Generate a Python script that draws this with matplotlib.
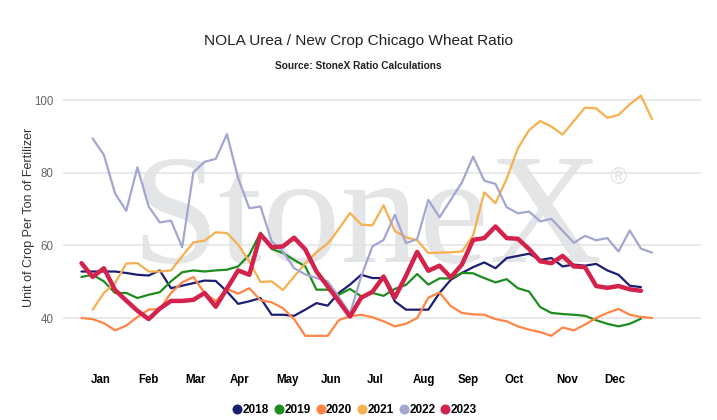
import numpy as np
import matplotlib

matplotlib.use("Agg")
import matplotlib.pyplot as plt
from matplotlib.lines import Line2D

# ---------------------------------------------------------------------------
# Data (weekly ratio)
# ---------------------------------------------------------------------------

years = ["2018", "2019", "2020", "2021", "2022", "2023"]
first_week = [0, 0, 0, 1, 1, 0]   # 2021 / 2022 start one week later

r2018 = [52.8, 52.8, 52.8, 52.8, 52.4, 51.9, 51.7, 53.1, 48.2, 48.9, 49.6, 50.3, 50.2,
         47.3, 43.9, 44.6, 45.5, 40.9, 40.9, 40.6, 42.3, 44.1, 43.4, 46.9, 49.2, 51.9,
         51.0, 51.0, 44.6, 42.3, 42.3, 42.3, 46.9, 50.5, 52.4, 54.0, 55.3, 53.7, 56.5,
         57.1, 57.7, 56.0, 56.5, 54.2, 54.7, 54.4, 54.9, 53.1, 51.9, 48.9, 48.5]
r2019 = [51.3, 51.9, 50.1, 46.9, 46.9, 45.5, 46.4, 47.1, 50.1, 52.6, 53.1, 52.8, 53.1,
         53.3, 54.2, 57.4, 63.5, 59.0, 57.9, 56.0, 54.2, 47.8, 47.8, 46.4, 48.0, 46.0,
         46.9, 46.1, 48.0, 49.1, 52.1, 49.2, 50.9, 50.9, 52.4, 52.3, 51.0, 49.8, 50.7,
         48.2, 47.3, 43.0, 41.4, 41.1, 40.9, 40.6, 39.4, 38.4, 37.7, 38.4, 39.8]
r2020 = [40.0, 39.7, 38.6, 36.6, 37.9, 40.3, 42.3, 42.5, 46.9, 49.8, 51.3, 46.9, 44.6,
         48.0, 46.7, 48.2, 44.9, 44.3, 42.7, 39.7, 35.1, 35.1, 35.1, 39.4, 40.5, 40.9,
         40.2, 39.1, 37.7, 38.4, 40.0, 45.6, 47.0, 43.3, 41.4, 41.0, 40.9, 39.7, 39.1,
         37.7, 36.8, 36.1, 35.1, 37.4, 36.6, 38.2, 40.0, 41.4, 42.5, 40.9, 40.3, 40.0]
r2021 = [42.3, 46.9, 49.6, 55.0, 55.1, 52.8, 52.8, 53.1, 57.0, 60.8, 61.3, 63.6, 63.4,
         60.2, 55.6, 49.9, 50.1, 47.7, 51.4, 55.0, 58.1, 60.5, 64.5, 68.9, 65.7, 65.5,
         71.0, 64.0, 62.2, 61.4, 57.9, 58.0, 58.1, 58.3, 62.7, 74.6, 71.6, 78.3, 86.7,
         91.7, 94.2, 92.7, 90.5, 94.2, 97.9, 97.7, 95.1, 95.9, 98.8, 101.2, 94.7]
r2022 = [89.4, 84.9, 74.3, 69.5, 81.5, 70.7, 66.3, 66.8, 59.5, 80.1, 83.0, 83.8, 90.6,
         78.5, 70.2, 70.7, 61.1, 58.3, 53.7, 52.0, 51.0, 50.1, 45.8, 41.2, 51.4, 59.7,
         61.5, 68.4, 60.6, 61.7, 72.5, 67.7, 72.5, 77.3, 84.4, 77.8, 76.9, 70.5, 68.8,
         69.3, 66.6, 67.3, 64.0, 60.7, 62.6, 61.4, 62.0, 58.3, 64.1, 59.1, 58.0]
r2023 = [55.1, 51.3, 53.7, 47.7, 44.8, 42.0, 39.7, 42.6, 44.7, 44.7, 45.0, 46.9, 43.1,
         48.1, 53.1, 51.9, 63.0, 59.5, 59.7, 62.1, 58.9, 52.8, 48.7, 44.6, 40.4, 45.6,
         47.2, 51.4, 45.6, 51.6, 58.2, 53.0, 54.4, 51.2, 54.7, 61.5, 62.0, 65.2, 62.0,
         61.8, 59.0, 55.6, 55.1, 57.1, 54.2, 54.0, 48.8, 48.3, 48.8, 47.9, 47.5]

series = [r2018, r2019, r2020, r2021, r2022, r2023]

months = ["Jan", "Feb", "Mar", "Apr", "May", "Jun",
          "Jul", "Aug", "Sep", "Oct", "Nov", "Dec"]

# ---------------------------------------------------------------------------
# Style
# ---------------------------------------------------------------------------

colors = ["#1b1f73", "#1e8c1e", "#ff8547", "#f7b04f", "#a3a6d0", "#d3224c"]
widths = [1.6, 1.6, 1.6, 1.6, 1.6, 3.2]
month_pos = [1.69, 5.99, 10.18, 14.16, 18.43, 22.3,
             26.23, 30.56, 34.58, 38.63, 43.39, 47.64]

plt.rcParams["font.family"] = ["Liberation Sans", "DejaVu Sans"]

W, H = 717, 420
fig = plt.figure(figsize=(W / 100, H / 100), dpi=100)

# plot area in pixels: x 63..701, y 80..355
ax = fig.add_axes([63 / W, 1 - 355 / H, (701 - 63) / W, (355 - 80) / H])
ax.set_xlim(-1.653, 55.37)
ax.set_ylim(29.82, 105.51)

for s in ax.spines.values():
    s.set_visible(False)

ax.set_yticks([40, 60, 80, 100])
ax.yaxis.grid(True, color="#e3e3e3", linewidth=1.1, zorder=1)
ax.set_axisbelow(True)
ax.tick_params(axis="y", length=0, pad=7, labelsize=8.3, labelcolor="#666666")
ax.set_xticks(month_pos)
ax.set_xticklabels(months, fontweight="bold", fontsize=8.3)
ax.tick_params(axis="x", length=0, pad=14)

ax.set_ylabel("Unit of Crop Per Ton of Fertilizer", fontsize=9, color="#333333",
              labelpad=-1)

# StoneX watermark behind the data
ax.text(0.477, 0.337, "StoneX", transform=ax.transAxes, ha="center",
        va="baseline", fontsize=113, family="Liberation Serif",
        color="#e4e5e7", zorder=0)
ax.text(0.87, 0.645, "®", transform=ax.transAxes, ha="center", va="center",
        fontsize=17, color="#e4e5e7", zorder=0)

for label, vals, start, c, lw in zip(years, series, first_week, colors, widths):
    x = np.arange(start, start + len(vals))
    ax.plot(x, vals, color=c, linewidth=lw, solid_joinstyle="round",
            solid_capstyle="round", zorder=3 if label != "2023" else 4)

fig.text(0.5, 1 - 41 / H, "NOLA Urea / New Crop Chicago Wheat Ratio",
         ha="center", va="center", fontsize=11.1, color="#222222")
fig.text(0.5, 1 - 66 / H, "Source: StoneX Ratio Calculations",
         ha="center", va="center", fontsize=7.3, fontweight="bold", color="#222222")

handles = [Line2D([0], [0], linestyle="none", marker="o", markersize=6.2,
                  color=c) for c in colors]
fig.legend(handles, years, loc="center", bbox_to_anchor=(0.496, 1 - 410 / H),
           ncol=6, frameon=False, handlelength=0.5, handletextpad=0.2,
           columnspacing=0.6, prop={"weight": "bold", "size": 8.5})

fig.savefig("out.png", dpi=100)
